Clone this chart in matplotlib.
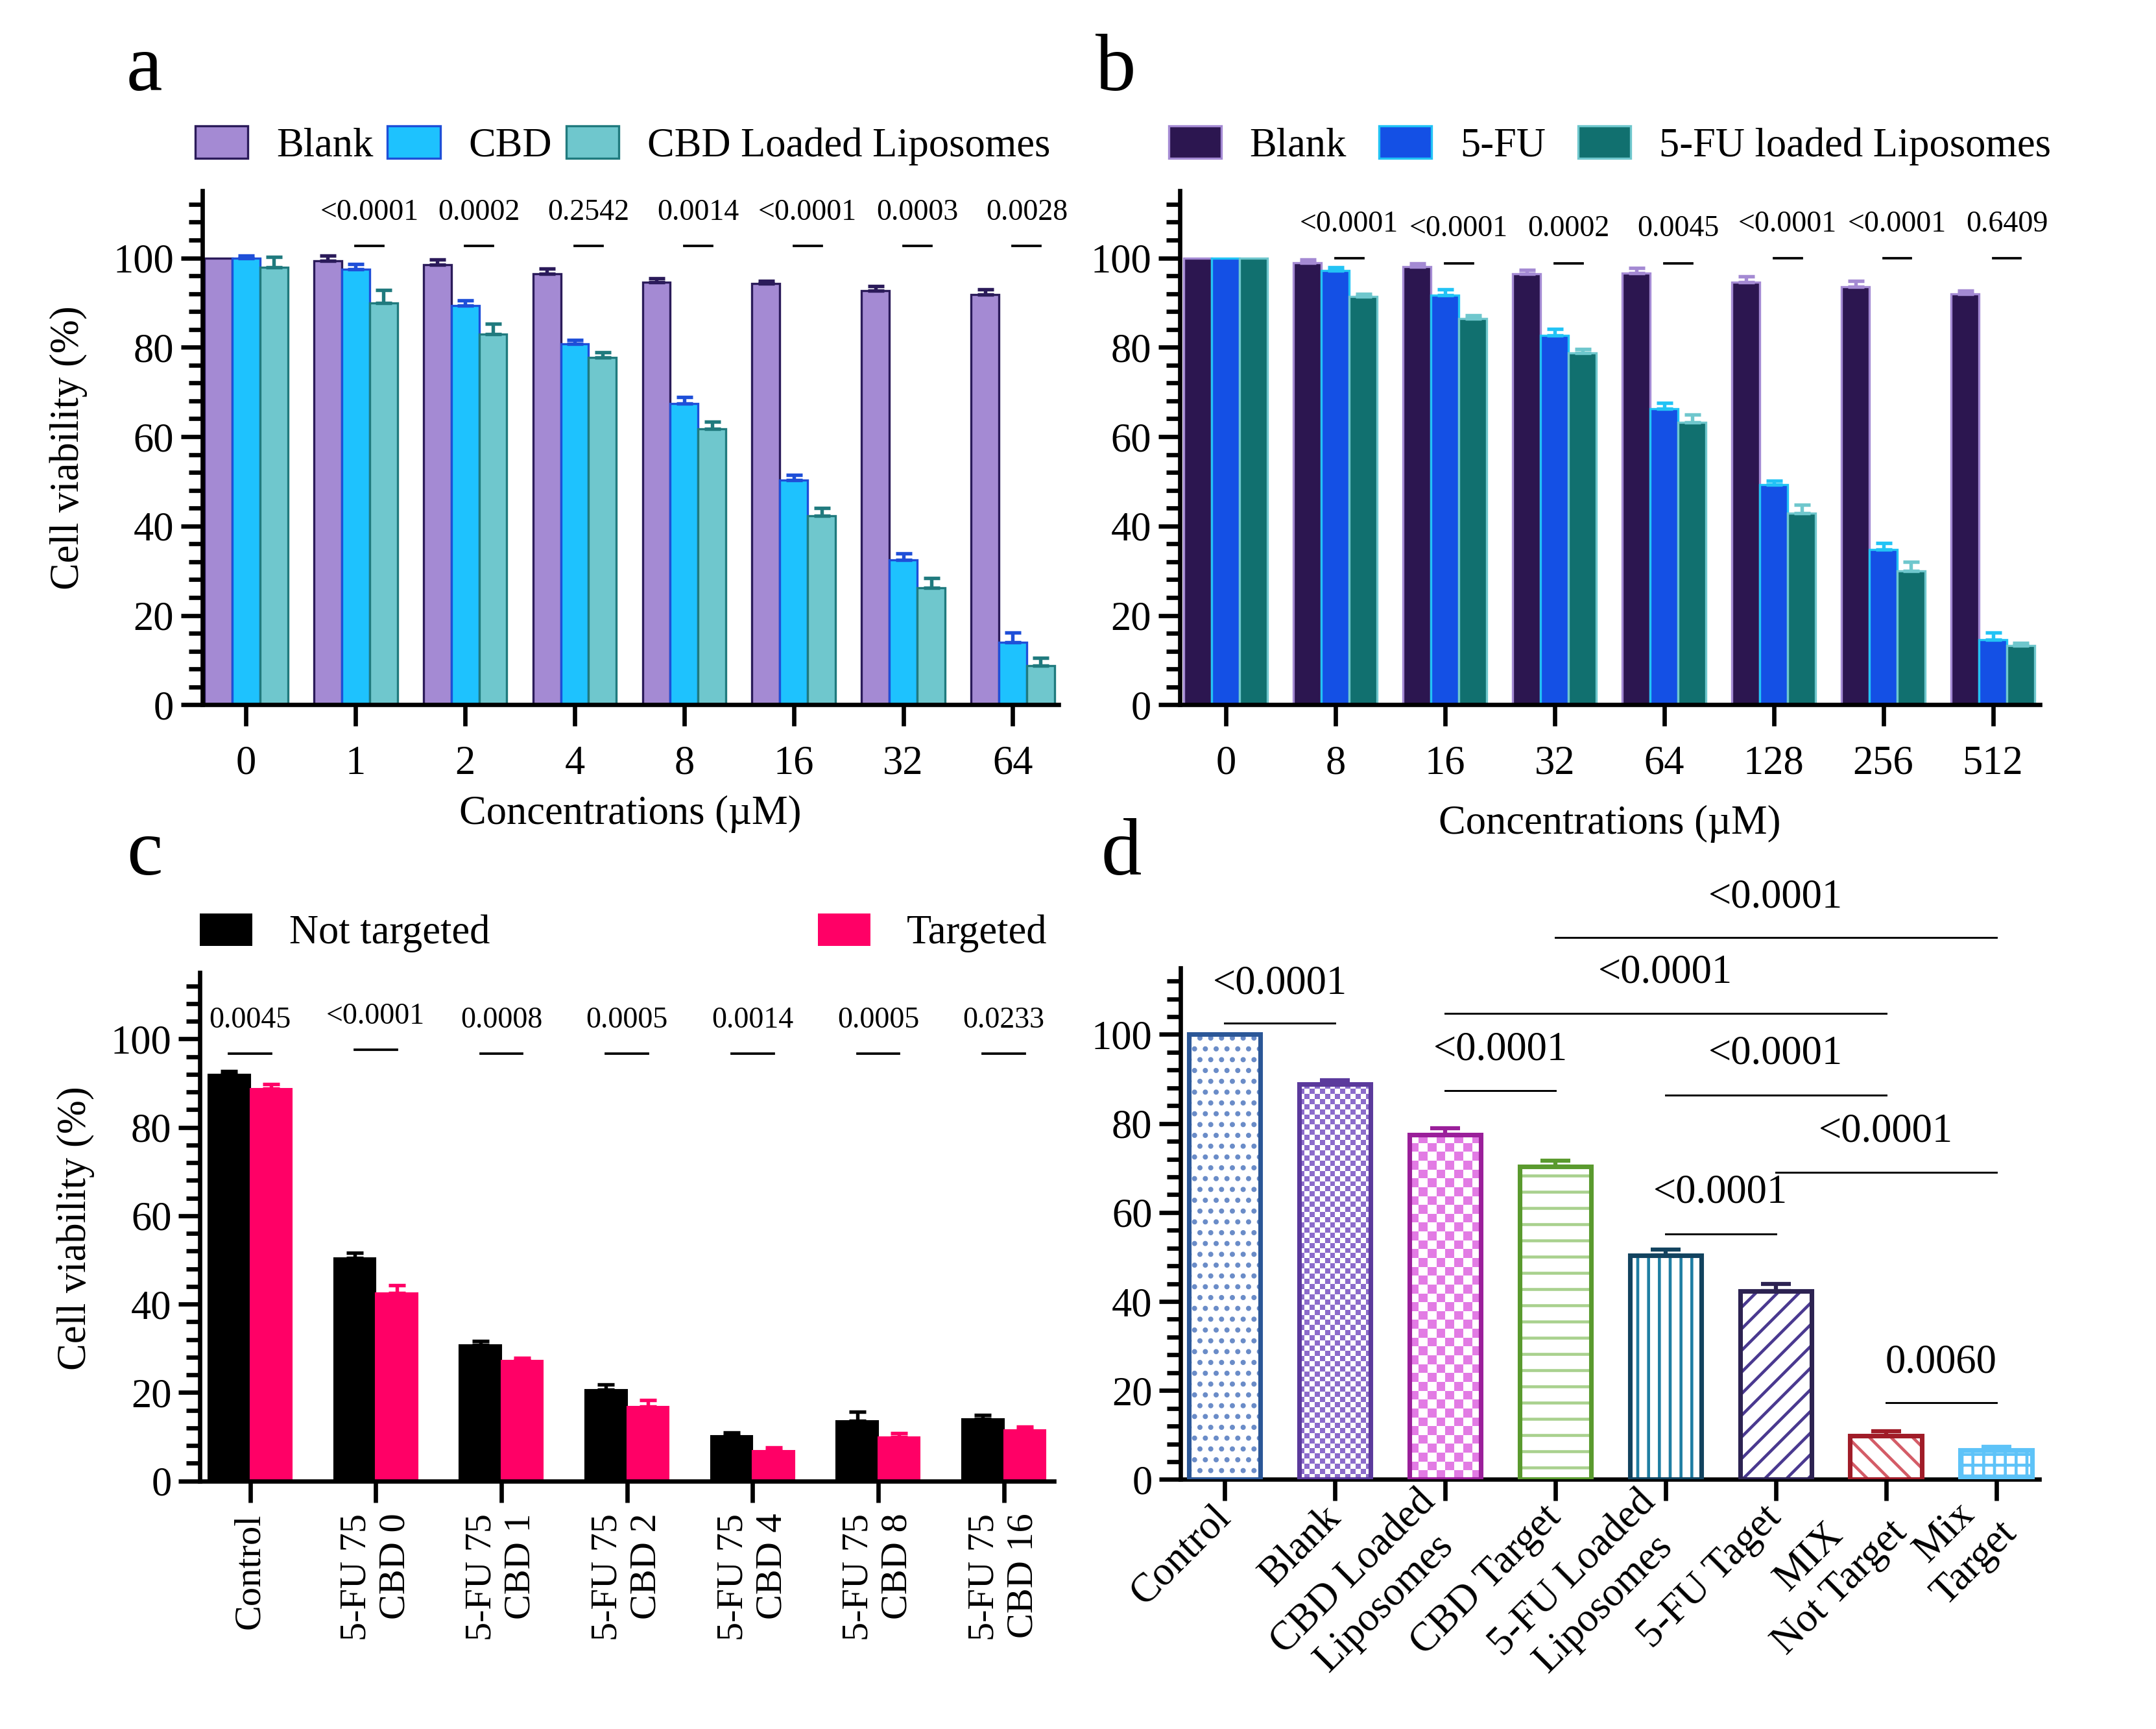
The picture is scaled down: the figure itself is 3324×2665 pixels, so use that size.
import numpy as np
import matplotlib
matplotlib.use("Agg")
import matplotlib.pyplot as plt
from matplotlib.patches import Patch
from matplotlib.colors import ListedColormap
from matplotlib.ticker import MultipleLocator

plt.rcParams["font.family"] = ["Liberation Serif", "DejaVu Serif"]
plt.rcParams["hatch.linewidth"] = 1.1

# ---------------- panel a : CBD ----------------
conc_a = ["0", "1", "2", "4", "8", "16", "32", "64"]
names_a = ["Blank", "CBD", "CBD Loaded Liposomes"]
blank_a = [100, 99.4, 98.5, 96.4, 94.5, 94.2, 92.6, 91.8]
blank_a_err = [0, 1.1, 1.1, 1.2, 0.9, 0.7, 1.1, 1.1]
cbd_a = [100, 97.4, 89.4, 80.7, 67.4, 50.3, 32.4, 14.0]
cbd_a_err = [0.5, 1.2, 1.1, 1.0, 1.4, 1.1, 1.4, 2.1]
lipo_a = [97.9, 89.9, 83.0, 77.7, 61.8, 42.3, 26.1, 8.7]
lipo_a_err = [2.3, 2.9, 2.2, 1.2, 1.6, 1.8, 2.3, 1.8]
p_a = ["<0.0001", "0.0002", "0.2542", "0.0014", "<0.0001", "0.0003", "0.0028"]
p_a_line = [102.7] * 7
p_a_text = [110.2] * 7

# ---------------- panel b : 5-FU ----------------
conc_b = ["0", "8", "16", "32", "64", "128", "256", "512"]
names_b = ["Blank", "5-FU", "5-FU loaded Liposomes"]
blank_b = [100, 98.9, 98.1, 96.4, 96.6, 94.6, 93.6, 91.9]
blank_b_err = [0, 0.8, 0.7, 0.9, 1.2, 1.2, 1.2, 0.8]
fu_b = [100, 97.1, 91.6, 82.7, 66.3, 49.3, 34.7, 14.5]
fu_b_err = [0, 0.8, 1.3, 1.4, 1.2, 0.8, 1.5, 1.7]
lipo_b = [100, 91.3, 86.5, 78.8, 63.2, 42.9, 30.0, 13.2]
lipo_b_err = [0, 0.7, 0.7, 0.8, 1.8, 1.9, 2.0, 0.7]
p_b = ["<0.0001", "<0.0001", "0.0002", "0.0045", "<0.0001", "<0.0001", "0.6409"]
p_b_line = [99.9, 98.8, 98.8, 98.8, 99.9, 99.9, 99.9]
p_b_text = [107.5, 106.5, 106.5, 106.5, 107.5, 107.5, 107.5]

# ---------------- panel c : combinations ----------------
groups_c = ["Control", "5-FU 75\nCBD 0", "5-FU 75\nCBD 1", "5-FU 75\nCBD 2",
            "5-FU 75\nCBD 4", "5-FU 75\nCBD 8", "5-FU 75\nCBD 16"]
names_c = ["Not targeted", "Targeted"]
not_targeted = [91.9, 50.4, 30.7, 20.7, 10.2, 13.6, 14.1]
not_targeted_err = [0.8, 1.2, 0.9, 1.1, 0.8, 2.0, 0.8]
targeted = [88.8, 42.5, 27.2, 16.8, 6.8, 9.9, 11.5]
targeted_err = [0.9, 1.7, 0.6, 1.5, 0.7, 0.9, 0.7]
p_c = ["0.0045", "<0.0001", "0.0008", "0.0005", "0.0014", "0.0005", "0.0233"]
p_c_line = [96.6, 97.6, 96.6, 96.6, 96.6, 96.6, 96.6]
p_c_text = [104.2, 105.0, 104.2, 104.2, 104.2, 104.2, 104.2]

# ---------------- panel d : formulations ----------------
groups_d = ["Control", "Blank", "CBD Loaded\nLiposomes", "CBD Target",
            "5-FU Loaded\nLiposomes", "5-FU Taget", "MIX\nNot Target", "Mix\nTarget"]
viab_d = [100, 88.8, 77.5, 70.4, 50.3, 42.4, 9.9, 6.6]
viab_d_err = [0, 0.9, 1.5, 1.2, 1.3, 1.6, 0.9, 0.8]
pairs_d = [(0, 1), (2, 3), (4, 5), (4, 6), (5, 7), (2, 6), (3, 7), (6, 7)]
p_d = ["<0.0001", "<0.0001", "<0.0001", "<0.0001", "<0.0001", "<0.0001", "<0.0001", "0.0060"]
p_d_line = [102.5, 87.4, 55.2, 86.3, 69.0, 104.8, 121.8, 17.3]
p_d_text = [111.4, 96.5, 64.5, 95.6, 78.2, 113.8, 130.8, 26.3]

# styles
fills_a = ["#A48AD3", "#1EC2FE", "#6FC7CD"]
edges_a = ["#2B1B5A", "#1E4FD8", "#207A7E"]
fills_b = ["#2C1650", "#1450E5", "#11706F"]
edges_b = ["#A48AD3", "#22C3F5", "#6FC7CD"]
colors_c = ["#000000", "#FF0066"]
edges_d = ["#2B5797", "#5B3A9C", "#9A1F9A", "#5A9A2E", "#12435F", "#2D2352", "#A01C28", "#5EC3F8"]
fills_d = ["#6A8CC8", "#8C6CCB", "#E27BE4", "#A9D18E", "#1F7EA3", "#4A3990", "#D45C67", "#5EC3F8"]
hatches_d = ["...", None, None, "--", "|||", "///", "\\\\\\", "+++"]
checker_d = [0, 14, 8, 0, 0, 0, 0, 0]


def style_axes(ax, xpad):
    for side in ["top", "right"]:
        ax.spines[side].set_visible(False)
    ax.spines["left"].set_linewidth(1.6)
    ax.spines["bottom"].set_linewidth(1.6)
    ax.set_ylim(0, 115)
    ax.set_yticks([0, 20, 40, 60, 80, 100])
    ax.yaxis.set_minor_locator(MultipleLocator(4))
    ax.tick_params(axis="y", which="major", length=8, width=1.6, labelsize=15, pad=2.5)
    ax.tick_params(axis="y", which="minor", length=5, width=1.6)
    ax.tick_params(axis="x", length=8, width=1.6, labelsize=15, pad=xpad)


def grouped(ax, series, errs, fills, edges, width, lw, capsize):
    x = np.arange(len(series[0]))
    n = len(series)
    offs = (np.arange(n) - (n - 1) / 2) * width
    for vals, err, fc, ec, off in zip(series, errs, fills, edges, offs):
        vals = np.array(vals, dtype=float)
        err = np.array(err, dtype=float)
        ax.bar(x + off, vals, width, color=fc, edgecolor=ec, linewidth=lw, zorder=2)
        m = err > 0
        ax.errorbar(x[m] + off, vals[m], yerr=[np.zeros(m.sum()), err[m]], fmt="none",
                    ecolor=ec, elinewidth=1.3, capsize=capsize, capthick=1.3, zorder=3)
    return x, offs


def p_marks(ax, x, x1, x2, labels, ly, ty, fs, first=1):
    for k, (lab, yl, yt) in enumerate(zip(labels, ly, ty)):
        g = x[k + first]
        ax.plot([g + x1, g + x2], [yl, yl], color="black", lw=0.9, clip_on=False)
        ax.text(g + (x1 + x2) / 2, yt, lab, ha="center", va="center", fontsize=fs, clip_on=False)


def draw_checker(ax, bar, ncols, color):
    x0, w, h = bar.get_x(), bar.get_width(), bar.get_height()
    p0 = ax.transData.transform((x0, 0))
    p1 = ax.transData.transform((x0 + w, h))
    wpx, hpx = p1 - p0
    nrows = max(1, int(round(ncols * hpx / wpx)))
    grid = np.add.outer(np.arange(nrows), np.arange(ncols)) % 2
    im = ax.imshow(grid, extent=(x0, x0 + w, 0, h), cmap=ListedColormap(["white", color]),
                   aspect="auto", interpolation="nearest", origin="lower", zorder=1)
    im.set_clip_path(bar)


fig = plt.figure(figsize=(3324 / 300, 2665 / 300), dpi=300)
ax_a = fig.add_axes([0.0938, 0.5924, 0.3973, 0.2972])
ax_b = fig.add_axes([0.5472, 0.5924, 0.3990, 0.2972])
ax_c = fig.add_axes([0.0927, 0.1435, 0.3962, 0.2940])
ax_d = fig.add_axes([0.5476, 0.1443, 0.3982, 0.2960])

# ---- a
style_axes(ax_a, 7)
xa, offa = grouped(ax_a, [blank_a, cbd_a, lipo_a], [blank_a_err, cbd_a_err, lipo_a_err],
                   fills_a, edges_a, 0.254, 0.8, 3)
ax_a.set_xlim(-0.4, 7.42)
ax_a.set_xticks(xa)
ax_a.set_xticklabels(conc_a)
p_marks(ax_a, xa, offa[1], offa[2], p_a, p_a_line, p_a_text, 11)
ax_a.set_ylabel("Cell viability (%)", fontsize=15, va="center")
ax_a.yaxis.set_label_coords(-0.156, 0.5)
ax_a.set_xlabel("Concentrations (\u00b5M)", fontsize=15, va="center")
ax_a.xaxis.set_label_coords(0.5, -0.213)
ax_a.legend([Patch(facecolor=f, edgecolor=e, linewidth=0.8) for f, e in zip(fills_a, edges_a)],
            names_a, loc="center left", bbox_to_anchor=(-0.008, 1.088), ncol=3, frameon=False,
            fontsize=15, handlelength=1.3, handleheight=0.85, handletextpad=0.7,
            columnspacing=0.35, borderpad=0, borderaxespad=0)

# ---- b
style_axes(ax_b, 7)
xb, offb = grouped(ax_b, [blank_b, fu_b, lipo_b], [blank_b_err, fu_b_err, lipo_b_err],
                   fills_b, edges_b, 0.254, 0.8, 3)
ax_b.set_xlim(-0.42, 7.43)
ax_b.set_xticks(xb)
ax_b.set_xticklabels(conc_b)
p_marks(ax_b, xb, offb[1], offb[2], p_b, p_b_line, p_b_text, 11)
ax_b.set_xlabel("Concentrations (\u00b5M)", fontsize=15, va="center")
ax_b.xaxis.set_label_coords(0.5, -0.232)
ax_b.legend([Patch(facecolor=f, edgecolor=e, linewidth=0.8) for f, e in zip(fills_b, edges_b)],
            names_b, loc="center left", bbox_to_anchor=(-0.013, 1.088), ncol=3, frameon=False,
            fontsize=15, handlelength=1.3, handleheight=0.85, handletextpad=0.7,
            columnspacing=0.8, borderpad=0, borderaxespad=0)

# ---- c
style_axes(ax_c, 4)
xc, offc = grouped(ax_c, [not_targeted, targeted], [not_targeted_err, targeted_err],
                   colors_c, colors_c, 0.333, 0.5, 3.2)
ax_c.set_xlim(-0.4, 6.4)
ax_c.set_xticks(xc)
ax_c.set_xticklabels(groups_c, rotation=90, rotation_mode="anchor", ha="right", va="center",
                     multialignment="right", fontsize=14)
p_marks(ax_c, xc, offc[0], offc[1], p_c, p_c_line, p_c_text, 11, first=0)
ax_c.set_ylabel("Cell viability (%)", fontsize=15, va="center")
ax_c.yaxis.set_label_coords(-0.145, 0.497)
leg1 = ax_c.legend([Patch(facecolor=colors_c[0])], [names_c[0]], loc="center left",
                   bbox_to_anchor=(0.0, 1.078), frameon=False, fontsize=15, handlelength=1.3,
                   handleheight=0.85, handletextpad=0.9, borderpad=0, borderaxespad=0)
ax_c.add_artist(leg1)
ax_c.legend([Patch(facecolor=colors_c[1])], [names_c[1]], loc="center right",
            bbox_to_anchor=(0.992, 1.078), frameon=False, fontsize=15, handlelength=1.3,
            handleheight=0.85, handletextpad=0.9, borderpad=0, borderaxespad=0)

# ---- d
style_axes(ax_d, 4)
xd = np.arange(len(groups_d))
ax_d.set_xlim(-0.4, 7.39)
for i in range(len(groups_d)):
    if checker_d[i]:
        base = ax_d.bar(xd[i], viab_d[i], 0.65, color="white", linewidth=0, zorder=1)[0]
        draw_checker(ax_d, base, checker_d[i], fills_d[i])
    else:
        ax_d.bar(xd[i], viab_d[i], 0.65, facecolor="white", edgecolor=fills_d[i],
                 hatch=hatches_d[i], linewidth=0, zorder=1)
    ax_d.bar(xd[i], viab_d[i], 0.65, facecolor="none", edgecolor=edges_d[i], linewidth=1.7, zorder=3)
    if viab_d_err[i] > 0:
        ax_d.errorbar(xd[i], viab_d[i], yerr=[[0], [viab_d_err[i]]], fmt="none", ecolor=edges_d[i],
                      elinewidth=1.5, capsize=5.5, capthick=1.5, zorder=3)
ax_d.set_xlim(-0.4, 7.39)
ax_d.set_ylim(0, 115)
for (i1, i2), lab, yl, yt in zip(pairs_d, p_d, p_d_line, p_d_text):
    ax_d.plot([xd[i1], xd[i2]], [yl, yl], color="black", lw=0.7, clip_on=False)
    ax_d.text((xd[i1] + xd[i2]) / 2, yt, lab, ha="center", va="center", fontsize=15, clip_on=False)
ax_d.set_xticks(xd)
ax_d.set_xticklabels(groups_d, rotation=45, rotation_mode="anchor", ha="right", va="center",
                     multialignment="center", fontsize=15)

# panel letters
for lab, x, y in [("a", 0.0587, 0.948), ("b", 0.508, 0.948), ("c", 0.0587, 0.494), ("d", 0.5107, 0.494)]:
    fig.text(x, y, lab, fontsize=30, ha="left", va="baseline")

fig.savefig("out.png", dpi=300)
